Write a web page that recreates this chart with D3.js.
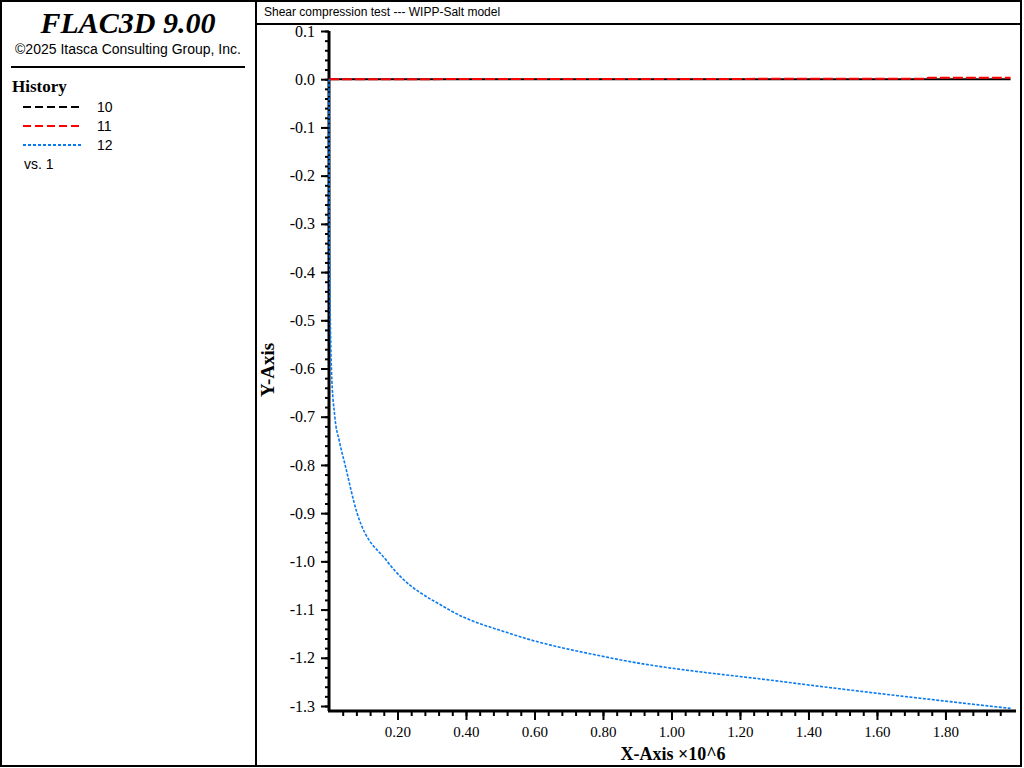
<!DOCTYPE html>
<html><head><meta charset="utf-8">
<script src="https://cdn.jsdelivr.net/npm/d3@7"></script>
<style>body{margin:0;background:#fff}</style>
</head><body><div id="screen"></div>
<script>
// history 12 (blue) vs. history 1, x in units of 1e6
var blueX = [0, 0.001, 0.003, 0.007, 0.017, 0.03, 0.047, 0.082, 0.17, 0.35, 0.53, 0.82, 1.33, 1.99];
var blueY = [0, -0.3, -0.45, -0.6, -0.7, -0.75, -0.8, -0.9, -1.0, -1.1, -1.15, -1.2, -1.25, -1.305];
// history 10 (black) and 11 (red)
var blackX = [0, 1.99];
var blackY = [0, 0];
var redX = [0, 1.74, 1.75, 1.99];
var redY = [0, 0.001, 0.003, 0.003];
var yTicks = [0.1, 0.0, -0.1, -0.2, -0.3, -0.4, -0.5, -0.6, -0.7, -0.8, -0.9, -1.0, -1.1, -1.2, -1.3];
var xTicks = [0.2, 0.4, 0.6, 0.8, 1.0, 1.2, 1.4, 1.6, 1.8];
var legendNames = ["10", "11", "12"];
var legendColors = ["#000", "#ff0000", "#0a7af0"];
var legendDash = ["8,4", "8,4", "3,2"];

var svg = d3.select("#screen").append("svg").attr("width", 1024).attr("height", 768);
svg.append("rect").attr("width", 1024).attr("height", 768).attr("fill", "#fff");
// frames
svg.append("rect").attr("x", 1).attr("y", 1).attr("width", 255).attr("height", 765).attr("fill", "none").attr("stroke", "#000").attr("stroke-width", 2);
svg.append("rect").attr("x", 256).attr("y", 1).attr("width", 765).attr("height", 765).attr("fill", "none").attr("stroke", "#000").attr("stroke-width", 2);
svg.append("line").attr("x1", 256).attr("x2", 1021).attr("y1", 24).attr("y2", 24).attr("stroke", "#000").attr("stroke-width", 2);
svg.append("text").attr("x", 264).attr("y", 16).attr("font-family", "Liberation Sans").attr("font-size", 12).text("Shear compression test --- WIPP-Salt model");

// left panel
svg.append("text").attr("x", 128).attr("y", 33).attr("text-anchor", "middle").attr("font-family", "Liberation Serif").attr("font-style", "italic").attr("font-weight", "bold").attr("font-size", 30).text("FLAC3D 9.00");
svg.append("text").attr("x", 128).attr("y", 54).attr("text-anchor", "middle").attr("font-family", "Liberation Sans").attr("font-size", 14).text("©2025 Itasca Consulting Group, Inc.");
svg.append("line").attr("x1", 11).attr("x2", 245).attr("y1", 67).attr("y2", 67).attr("stroke", "#000").attr("stroke-width", 2);
svg.append("text").attr("x", 12).attr("y", 92).attr("font-family", "Liberation Serif").attr("font-weight", "bold").attr("font-size", 17).text("History");
legendNames.forEach(function(n, i){
    var y = 107 + i * 19;
    svg.append("line").attr("x1", 23).attr("x2", 81).attr("y1", y).attr("y2", y).attr("stroke", legendColors[i]).attr("stroke-width", 2).attr("stroke-dasharray", legendDash[i]);
    svg.append("text").attr("x", 97).attr("y", y + 5).attr("font-family", "Liberation Sans").attr("font-size", 14).text(n);
});
svg.append("text").attr("x", 24).attr("y", 169).attr("font-family", "Liberation Sans").attr("font-size", 14).text("vs. 1");

// scales
var x = d3.scaleLinear().domain([0, 2.006]).range([329, 1016]);
var y = d3.scaleLinear().domain([-1.3, 0.1]).range([706, 31]);
var hyph = function(f){ return function(d){ return f(d).replace("\u2212", "-"); }; };

// y axis
var yMinor = d3.range(-130, 11, 2).map(function(d){ return d / 100; });
svg.append("g").attr("transform", "translate(329,0)").call(d3.axisLeft(y).tickValues(yMinor).tickSize(4).tickFormat(""));
svg.append("g").attr("transform", "translate(329,0)")
    .call(d3.axisLeft(y).tickValues(yTicks).tickSize(8).tickPadding(6).tickFormat(hyph(d3.format(".1f"))))
    .call(function(g){ g.selectAll("text").attr("font-family", "Liberation Serif").attr("font-size", 16).attr("fill", "#000"); });
svg.selectAll("g .tick line").attr("stroke-width", 2);
svg.append("line").attr("x1", 329).attr("x2", 329).attr("y1", 31).attr("y2", 711).attr("stroke", "#000").attr("stroke-width", 3);

// x axis
var xMinor = d3.range(4, 200, 4).map(function(d){ return d / 100; });
svg.append("g").attr("transform", "translate(0,711)").call(d3.axisBottom(x).tickValues(xMinor).tickSize(5).tickFormat("")).call(function(g){ g.select(".domain").remove(); g.selectAll("line").attr("stroke-width", 2); });
svg.append("g").attr("transform", "translate(0,711)")
    .call(d3.axisBottom(x).tickValues(xTicks).tickSize(9).tickPadding(6).tickFormat(d3.format(".2f")))
    .call(function(g){ g.select(".domain").remove(); g.selectAll("line").attr("stroke-width", 2); g.selectAll("text").attr("font-family", "Liberation Serif").attr("font-size", 15).attr("fill", "#000"); });
svg.append("line").attr("x1", 328).attr("x2", 1016).attr("y1", 711).attr("y2", 711).attr("stroke", "#000").attr("stroke-width", 3);

svg.append("text").attr("x", 673).attr("y", 760).attr("text-anchor", "middle").attr("font-family", "Liberation Serif").attr("font-weight", "bold").attr("font-size", 18).text("X-Axis ×10^6");
svg.append("text").attr("transform", "translate(274,370) rotate(-90)").attr("text-anchor", "middle").attr("font-family", "Liberation Serif").attr("font-weight", "bold").attr("font-size", 19).text("Y-Axis");

// lines
var line = d3.line().x(function(d){ return x(d[0]); }).y(function(d){ return y(d[1]); });
var zipper = function(a, b){ return a.map(function(v, i){ return [v, b[i]]; }); };
svg.append("path").attr("d", line(zipper(blackX, blackY))).attr("fill", "none").attr("stroke", "#000").attr("stroke-width", 2);
svg.append("path").attr("d", line(zipper(redX, redY))).attr("fill", "none").attr("stroke", "#ff0000").attr("stroke-width", 2).attr("stroke-dasharray", "10,3");
svg.append("path").attr("d", d3.line().curve(d3.curveMonotoneX).x(function(d){ return x(d[0]); }).y(function(d){ return y(d[1]); })(zipper(blueX, blueY)))
    .attr("fill", "none").attr("stroke", "#0a7af0").attr("stroke-width", 1.6).attr("stroke-dasharray", "3,1.5");
</script></body></html>
